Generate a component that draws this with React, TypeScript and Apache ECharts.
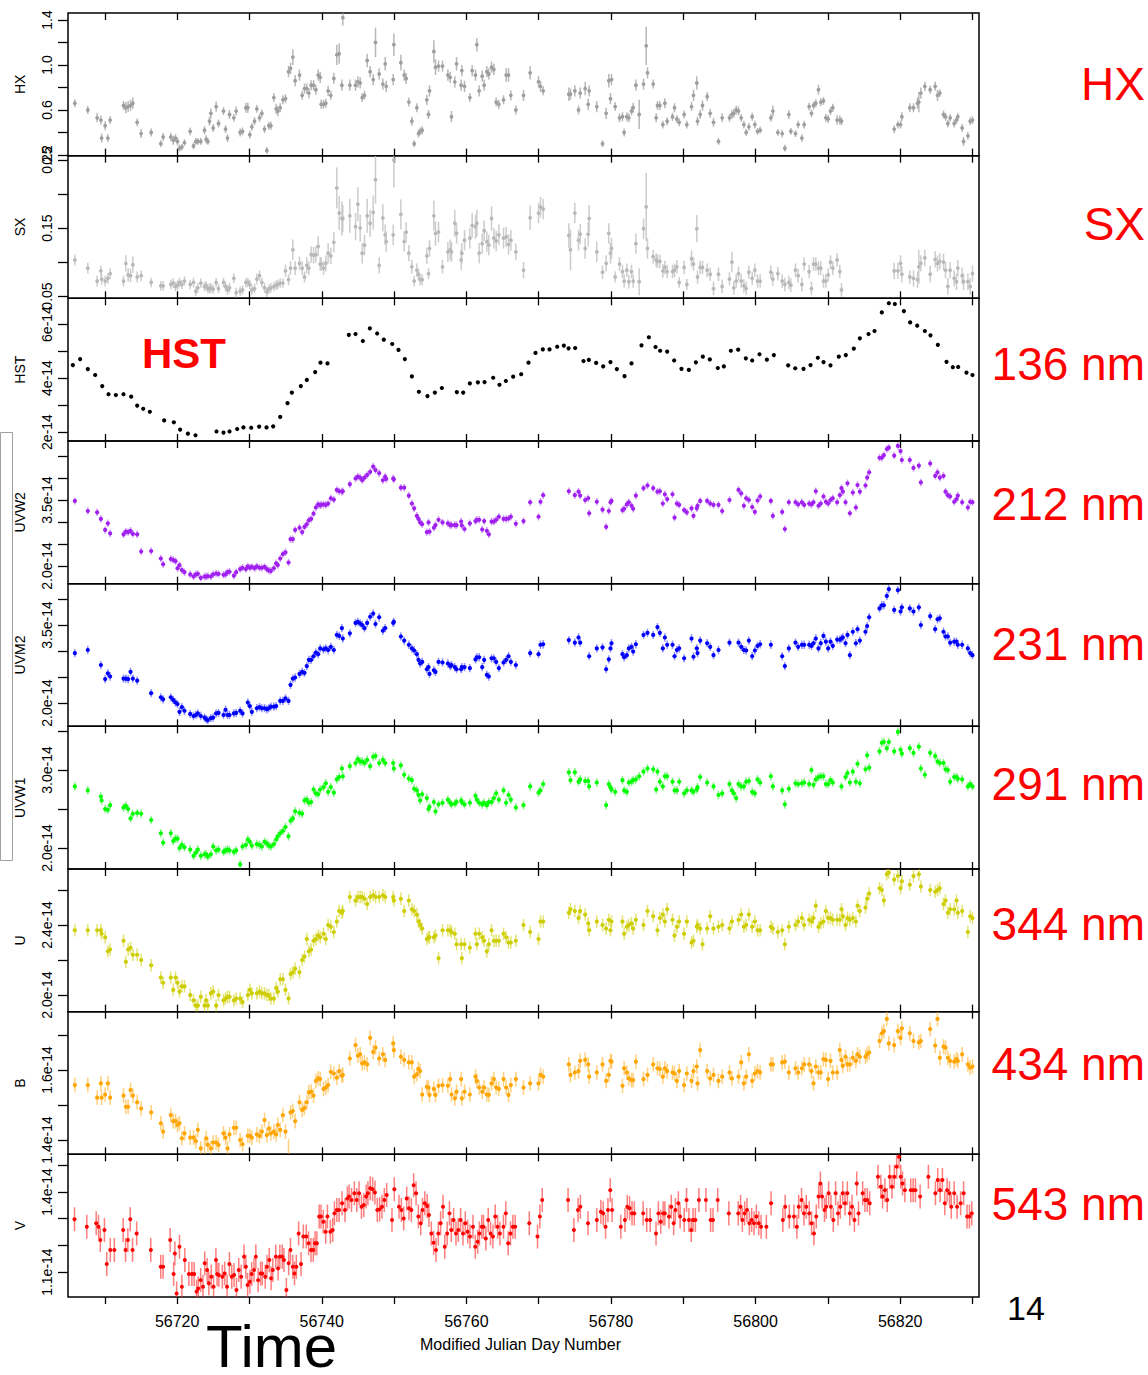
import { useEffect, useRef } from "react";
import * as echarts from "echarts";

const FONT = '"Liberation Sans", Arial, Helvetica, sans-serif';

// time axis (Modified Julian Day)
const xMin = 56704.9;
const xMax = 56830.9;
const xTickValues = [56710, 56720, 56730, 56740, 56750, 56760, 56770, 56780, 56790, 56800, 56810, 56820, 56830];
const xLabelValues = [56720, 56740, 56760, 56780, 56800, 56820];

// Swift visit times (shared by the X-ray and UVOT light curves)
const swiftDays = [
  56705.85, 56707.64, 56708.93, 56709.45, 56709.55, 56710.04, 56710.41, 56710.73, 56712.58, 56712.9,
  56713.22, 56713.55, 56713.87, 56714.47, 56715.02, 56716.4, 56717.74, 56718.06, 56719.12, 56719.45,
  56719.77, 56720.05, 56720.32, 56720.65, 56721.01, 56721.8, 56722.26, 56722.58, 56722.86, 56723.27,
  56723.78, 56724.01, 56724.24, 56724.47, 56724.66, 56724.98, 56725.39, 56725.72, 56726.41, 56726.69,
  56726.96, 56727.24, 56727.84, 56728.16, 56728.71, 56729.04, 56729.5, 56729.77, 56730.05, 56730.33,
  56730.7, 56731.02, 56731.39, 56731.71, 56732.08, 56732.4, 56732.68, 56732.96, 56733.37, 56733.69,
  56733.92, 56734.25, 56734.62, 56734.98, 56735.4, 56735.68, 56736.0, 56736.32, 56736.92, 56737.29,
  56737.61, 56737.93, 56738.21, 56738.53, 56738.86, 56739.18, 56739.5, 56739.78, 56739.92, 56740.24,
  56740.56, 56740.88, 56741.25, 56741.67, 56742.08, 56742.41, 56742.78, 56742.91, 56743.88, 56744.67,
  56744.99, 56745.31, 56745.59, 56745.91, 56746.28, 56746.69, 56747.11, 56747.43, 56747.94, 56748.45,
  56748.77, 56748.91, 56749.88, 56749.97, 56750.94, 56751.4, 56751.67, 56752.04, 56752.46, 56752.78,
  56753.15, 56753.38, 56753.61, 56753.89, 56754.53, 56754.76, 56754.9, 56755.5, 56755.73, 56756.15,
  56756.7, 56757.44, 56757.76, 56757.94, 56758.4, 56758.64, 56759.28, 56759.37, 56759.74, 56760.48,
  56760.8, 56761.26, 56761.45, 56761.77, 56762.19, 56762.46, 56762.83, 56763.11, 56763.48, 56763.8,
  56764.12, 56764.49, 56765.14, 56765.5, 56765.83, 56766.15, 56766.84, 56767.9, 56768.82, 56769.98,
  56770.25, 56770.62, 56774.17, 56774.4, 56775.0, 56775.51, 56775.74, 56776.43, 56776.85, 56776.98,
  56778.04, 56778.83, 56779.33, 56779.7, 56779.93, 56780.07, 56780.58, 56781.18, 56781.59, 56781.82,
  56782.19, 56782.47, 56782.84, 56783.07, 56783.44, 56783.9, 56784.5, 56784.87, 56785.05, 56785.84,
  56786.25, 56786.43, 56786.76, 56787.17, 56787.45, 56787.77, 56788.51, 56788.79, 56789.11, 56789.43,
  56790.12, 56790.49, 56791.14, 56791.41, 56791.87, 56791.97, 56792.34, 56792.66, 56793.3, 56793.72,
  56794.18, 56794.87, 56795.38, 56796.39, 56796.72, 56796.99, 56797.32, 56797.64, 56798.01, 56798.38,
  56798.7, 56799.07, 56799.53, 56799.9, 56800.27, 56800.63, 56802.11, 56802.39, 56803.08, 56803.68,
  56804.05, 56804.6, 56804.88, 56805.52, 56805.89, 56806.4, 56806.72, 56807.41, 56807.73, 56808.01,
  56808.33, 56808.7, 56809.02, 56809.39, 56809.72, 56810.04, 56810.36, 56810.68, 56811.28, 56811.65,
  56811.88,
  56812.07, 56812.44, 56812.71, 56813.04, 56813.45, 56813.87, 56814.1, 56814.42, 56815.2, 56815.43,
  56815.71, 56817.14, 56817.46, 56817.74, 56818.15, 56818.43,
  56819.17, 56819.68, 56820.05, 56820.23, 56821.33, 56821.84, 56822.4, 56822.58, 56822.86,
  56823.41, 56824.15, 56824.84, 56825.16, 56825.48, 56825.99, 56826.27, 56826.59, 56826.91, 56827.47,
  56827.79, 56827.97, 56828.57, 56828.76, 56829.36, 56829.68, 56830.0,
];

const N = null;

// hard X-ray count rate
const hxRate: (number | null)[] = [
  0.66, 0.6, 0.53, 0.51, 0.35, 0.46, 0.35, 0.51, 0.64, 0.62,
  0.63, 0.64, 0.66, 0.49, 0.39, 0.4, 0.3, 0.36, 0.36, 0.33,
  0.35, 0.32, 0.26, 0.27, 0.31, 0.41, 0.28, 0.32, 0.32, 0.32,
  0.42, 0.34, 0.32, 0.5, 0.57, 0.44, 0.63, 0.48, 0.59, 0.43,
  0.35, 0.56, 0.53, 0.59, 0.4, 0.41, 0.62, 0.62, 0.38, 0.45,
  0.5, 0.61, 0.53, 0.57, 0.43, 0.24, 0.46, 0.46, 0.71, 0.61,
  0.59, 0.62, 0.69, 0.7, 0.94, 0.97, 1.07, 0.86, 0.91, 0.73,
  0.79, 0.79, 0.75, 0.82, 0.82, 0.78, 0.91, 0.89, 0.65, 0.65,
  0.66, 0.77, 0.73, 0.88, 1.09, 1.1, 0.82, 1.42, 0.82, 0.82,
  0.85, 0.84, 0.71, 0.73, 1.04, 0.94, 0.87, 1.2, 0.92, 0.83,
  1.01, 0.81, 0.87, 1.18, 1.02, 0.91, 0.88, 0.67, 0.5, 0.3,
  0.62, 0.39, 0.41, 0.42, 0.69, 0.56, 0.77, 1.12, 0.98, 0.99,
  0.99, 0.91, 0.89, 0.54, 0.85, 1.01, 0.82, 0.95, 0.81, 0.71,
  0.95, 0.91, 1.18, 0.77, 0.9, 0.82, 0.94, 0.92, 0.98, 0.96,
  0.67, 0.65, 0.69, 0.91, 0.91, 0.73, 0.6, 0.73, 0.93, 0.85,
  0.81, 0.77, 0.74, 0.74, 0.77, 0.6, 0.75, 0.79, 0.65, 0.77,
  0.63, 0.3, 0.57, 0.86, 0.7, 0.87, 0.63, 0.53, 0.54, 0.4,
  0.54, 0.53, 0.59, 0.62, 0.82, 0.56, 0.83, 1.17, 0.93, 0.83,
  0.53, 0.64, 0.64, 0.47, 0.66, 0.5, 0.54, 0.62, 0.52, 0.49,
  0.56, 0.47, 0.63, 0.73, 0.84, 0.5, 0.56, 0.64, 0.72, 0.57,
  0.49, 0.32, 0.53, 0.53, 0.56, 0.57, 0.6, 0.59, 0.53, 0.47,
  0.4, 0.45, 0.54, 0.47, 0.41, 0.42, 0.53, 0.59, 0.4, 0.39,
  0.26, 0.56, 0.41, 0.39, 0.47, 0.35, 0.47, 0.63, 0.57, 0.64,
  0.66, 0.78, 0.67, 0.68, 0.53, 0.52, 0.59, 0.62, 0.51, 0.51,
  0.5,
  N, N, N, N, N, N, N, N, N, N, N, N, N, N, N, N,
  0.43, 0.47, 0.47, 0.54, 0.62, 0.62, 0.66, 0.67, 0.75,
  0.81, 0.78, 0.81, 0.73, 0.75, 0.56, 0.54, 0.48, 0.53, 0.48,
  0.51, 0.54, 0.44, 0.32, 0.37, 0.5, 0.51,
];

const hxErr = [
  0.035, 0.035, 0.04, 0.04, 0.04, 0.04, 0.035, 0.035, 0.04, 0.05,
  0.05, 0.05, 0.05, 0.035, 0.04, 0.035, 0.03, 0.035, 0.035, 0.04,
  0.035, 0.035, 0.03, 0.03, 0.03, 0.035, 0.03, 0.03, 0.03, 0.03,
  0.035, 0.035, 0.03, 0.04, 0.045, 0.035, 0.045, 0.035, 0.035, 0.035,
  0.035, 0.04, 0.035, 0.04, 0.035, 0.035, 0.045, 0.045, 0.035, 0.035,
  0.035, 0.035, 0.035, 0.035, 0.035, 0.03, 0.035, 0.035, 0.04, 0.045,
  0.045, 0.04, 0.04, 0.04, 0.05, 0.05, 0.07, 0.05, 0.05, 0.04,
  0.045, 0.045, 0.045, 0.045, 0.045, 0.045, 0.05, 0.05, 0.04, 0.04,
  0.04, 0.045, 0.04, 0.05, 0.09, 0.09, 0.05, 0.07, 0.05, 0.05,
  0.05, 0.05, 0.04, 0.04, 0.06, 0.05, 0.05, 0.13, 0.05, 0.05,
  0.06, 0.05, 0.05, 0.1, 0.07, 0.05, 0.05, 0.04, 0.04, 0.03,
  0.04, 0.035, 0.035, 0.035, 0.045, 0.04, 0.05, 0.1, 0.07, 0.05,
  0.05, 0.05, 0.05, 0.05, 0.05, 0.06, 0.05, 0.05, 0.05, 0.04,
  0.05, 0.05, 0.06, 0.05, 0.05, 0.05, 0.05, 0.05, 0.05, 0.05,
  0.04, 0.04, 0.04, 0.06, 0.06, 0.045, 0.04, 0.05, 0.06, 0.05,
  0.05, 0.04, 0.06, 0.05, 0.05, 0.04, 0.05, 0.06, 0.05, 0.05,
  0.05, 0.03, 0.05, 0.06, 0.05, 0.05, 0.04, 0.04, 0.04, 0.035,
  0.04, 0.04, 0.04, 0.045, 0.05, 0.13, 0.05, 0.17, 0.05, 0.04,
  0.04, 0.04, 0.04, 0.035, 0.045, 0.035, 0.035, 0.04, 0.035, 0.035,
  0.035, 0.035, 0.04, 0.05, 0.06, 0.04, 0.04, 0.045, 0.04, 0.04,
  0.04, 0.03, 0.04, 0.035, 0.04, 0.04, 0.04, 0.04, 0.035, 0.035,
  0.03, 0.035, 0.035, 0.035, 0.03, 0.03, 0.035, 0.05, 0.03, 0.035,
  0.03, 0.04, 0.03, 0.03, 0.035, 0.035, 0.035, 0.035, 0.035, 0.035,
  0.035, 0.045, 0.035, 0.035, 0.035, 0.035, 0.035, 0.035, 0.04, 0.04,
  0.035,
  0, 0, 0, 0, 0, 0, 0, 0, 0, 0, 0, 0, 0, 0, 0, 0,
  0.035, 0.035, 0.035, 0.04, 0.04, 0.04, 0.05, 0.09, 0.05,
  0.04, 0.035, 0.04, 0.05, 0.035, 0.035, 0.035, 0.035, 0.035, 0.035,
  0.035, 0.035, 0.035, 0.04, 0.035, 0.035, 0.035,
];

// soft X-ray count rate
const sxRate: (number | null)[] = [
  0.103, 0.091, 0.072, 0.087, 0.075, 0.072, 0.076, 0.083, 0.072, 0.098,
  0.081, 0.08, 0.096, 0.078, 0.08, 0.07, 0.065, 0.065, 0.067, 0.069,
  0.064, 0.066, 0.07, 0.067, 0.072, 0.067, 0.07, 0.057, 0.062, 0.069,
  0.064, 0.065, 0.061, 0.061, 0.062, 0.06, 0.07, 0.061, 0.07, 0.064,
  0.059, 0.062, 0.076, 0.055, 0.057, 0.059, 0.07, 0.07, 0.067, 0.059,
  0.061, 0.075, 0.08, 0.07, 0.062, 0.056, 0.06, 0.062, 0.064, 0.066,
  0.067, 0.069, 0.069, 0.087, 0.074, 0.091, 0.118, 0.091, 0.098, 0.091,
  0.078, 0.095, 0.091, 0.111, 0.11, 0.111, 0.123, 0.097, 0.097, 0.091,
  0.098, 0.113, 0.109, 0.129, 0.209, 0.172, 0.164, 0.164, 0.168, 0.152,
  0.185, 0.15, 0.113, 0.125, 0.168, 0.157, 0.173, 0.221, 0.095, 0.165,
  0.14, 0.13, 0.14, 0.25, 0.17, 0.13, 0.144, 0.113, 0.093, 0.072,
  0.088, 0.082, 0.074, 0.074, 0.109, 0.083, 0.12, 0.168, 0.142, 0.144,
  0.093, 0.115, 0.118, 0.115, 0.157, 0.142, 0.103, 0.113, 0.132, 0.135,
  0.154, 0.152, 0.157, 0.113, 0.127, 0.146, 0.13, 0.125, 0.164, 0.135,
  0.131, 0.14, 0.135, 0.137, 0.126, 0.132, 0.115,
  0.088, 0.165, 0.172, 0.181, 0.178, 0.139, 0.118, 0.172, 0.132, 0.141,
  0.12, 0.141, 0.164, 0.115, 0.085, 0.098, 0.142, 0.113, 0.12, 0.078,
  0.097, 0.086, 0.072, 0.088, 0.071, 0.086, 0.072, 0.127, 0.071, 0.149,
  0.181, 0.12, 0.108, 0.103, 0.101, 0.101, 0.087, 0.092, 0.086, 0.086,
  0.088, 0.093, 0.07, 0.092, 0.067, 0.105, 0.097, 0.149, 0.078, 0.092,
  0.092, 0.088, 0.082, 0.061, 0.082, 0.064, 0.075, 0.1, 0.062, 0.072,
  0.083, 0.072, 0.065, 0.061, 0.085, 0.076, 0.088, 0.072, 0.072, 0.085,
  0.075, 0.083, 0.072, 0.067, 0.07, 0.066, 0.088, 0.08, 0.067, 0.097,
  0.086, 0.061, 0.097, 0.097, 0.091, 0.091, 0.072, 0.072, 0.081, 0.1,
  0.091, 0.103, 0.086, 0.059,
  N, N, N, N, N, N, N, N, N, N, N, N, N, N, N, N,
  0.087, 0.087, 0.098, 0.082, 0.078, 0.076, 0.074, 0.093, 0.098, 0.106,
  0.082, 0.104, 0.098, 0.101, 0.1, 0.088, 0.064, 0.088, 0.076, 0.071,
  0.091, 0.08, 0.071, 0.071, 0.064, 0.083,
];

const sxErr = [
  0.008, 0.008, 0.008, 0.008, 0.008, 0.008, 0.008, 0.008, 0.008, 0.012,
  0.01, 0.01, 0.012, 0.008, 0.008, 0.007, 0.007, 0.007, 0.007, 0.007,
  0.007, 0.007, 0.007, 0.007, 0.007, 0.007, 0.007, 0.007, 0.007, 0.007,
  0.007, 0.007, 0.007, 0.007, 0.007, 0.007, 0.007, 0.007, 0.007, 0.007,
  0.007, 0.007, 0.007, 0.007, 0.007, 0.007, 0.007, 0.007, 0.007, 0.007,
  0.007, 0.008, 0.008, 0.007, 0.007, 0.007, 0.007, 0.007, 0.007, 0.007,
  0.007, 0.007, 0.007, 0.009, 0.008, 0.01, 0.015, 0.01, 0.01, 0.01,
  0.008, 0.012, 0.01, 0.012, 0.012, 0.012, 0.015, 0.01, 0.01, 0.01,
  0.012, 0.015, 0.012, 0.015, 0.03, 0.025, 0.025, 0.02, 0.025, 0.02,
  0.025, 0.02, 0.015, 0.015, 0.025, 0.02, 0.025, 0.035, 0.012, 0.02,
  0.015, 0.015, 0.015, 0.04, 0.022, 0.015, 0.015, 0.012, 0.01, 0.008,
  0.01, 0.008, 0.008, 0.008, 0.012, 0.008, 0.012, 0.022, 0.018, 0.015,
  0.01, 0.015, 0.015, 0.015, 0.02, 0.015, 0.015, 0.015, 0.015, 0.015,
  0.018, 0.018, 0.02, 0.015, 0.015, 0.015, 0.015, 0.015, 0.018, 0.015,
  0.015, 0.015, 0.015, 0.015, 0.015, 0.015, 0.012,
  0.012, 0.018, 0.015, 0.015, 0.015, 0.018, 0.03, 0.015, 0.015, 0.015,
  0.015, 0.018, 0.02, 0.015, 0.01, 0.012, 0.015, 0.015, 0.015, 0.008,
  0.01, 0.01, 0.01, 0.01, 0.01, 0.01, 0.01, 0.015, 0.02, 0.015,
  0.05, 0.015, 0.01, 0.01, 0.01, 0.01, 0.01, 0.01, 0.01, 0.01,
  0.01, 0.01, 0.008, 0.01, 0.008, 0.012, 0.01, 0.02, 0.01, 0.01,
  0.01, 0.01, 0.01, 0.01, 0.01, 0.01, 0.01, 0.015, 0.01, 0.01,
  0.01, 0.01, 0.01, 0.01, 0.01, 0.01, 0.01, 0.01, 0.01, 0.01,
  0.01, 0.01, 0.01, 0.01, 0.01, 0.01, 0.01, 0.01, 0.01, 0.01,
  0.01, 0.01, 0.01, 0.01, 0.01, 0.01, 0.01, 0.01, 0.01, 0.01,
  0.01, 0.01, 0.01, 0.01,
  0, 0, 0, 0, 0, 0, 0, 0, 0, 0, 0, 0, 0, 0, 0, 0,
  0.012, 0.012, 0.012, 0.012, 0.01, 0.012, 0.012, 0.025, 0.012, 0.012,
  0.012, 0.012, 0.012, 0.012, 0.012, 0.012, 0.012, 0.012, 0.012, 0.012,
  0.012, 0.012, 0.012, 0.012, 0.012, 0.012,
];

// UVW2 flux (1e-14 erg/s/cm2/A)
const uvw2Flux: (number | null)[] = [
  3.48, 3.25, 3.22, 3.07, N, 2.82, 2.97, 2.74, 2.72, 2.78,
  2.77, 2.8, 2.73, 2.72, 2.33, 2.34, 2.17, 2.04, 2.16, 2.14,
  2.11, 1.95, 2.02, 1.91, 1.86, 1.81, 1.76, 1.81, 1.82, 1.73,
  1.76, 1.76, 1.77, N, 1.76, 1.81, 1.83, 1.82, 1.8, 1.81,
  1.86, 1.87, 1.78, 1.86, 1.93, 1.96, 1.93, 1.99, 1.96, 1.98,
  1.95, 1.99, 1.96, 1.96, 1.98, 1.93, 1.9, 1.89, 1.95, 2.06,
  2.02, 2.17, 2.27, 2.31, 2.08, 2.61, 2.61, 2.82, 2.87, 2.77,
  2.89, 2.95, 3.04, 3.07, 3.19, 3.33, 3.4, 3.38, 3.39, 3.4,
  3.39, 3.42, 3.54, 3.51, 3.73, 3.7, 3.69, 3.7, 3.86, 3.99,
  4.03, 4.01, 3.95, 4.01, 4.07, 4.14, 4.26, 4.18, 4.11, 3.95,
  4.03, 3.98, 3.99, 3.97, 3.78, 3.78, N, 3.6, 3.42, 3.31,
  3.14, 3.07, 2.99, 2.95, 2.77, 2.99, 2.78, 2.87, 2.93, 3.05,
  2.99, 2.97, 2.93, 2.93, 2.93, 2.93, 3.01, 2.92, 2.84, 2.97,
  N, 3.02, 3.05, 3.05, 2.83, 3.02, 2.8, 2.72, 3.01, 3.01,
  3.05, 3.12, 3.07, 3.07, 3.08, 3.12, 2.96,
  3.02, 3.45, 3.12, 3.46, 3.61, 3.7, N, 3.61, 3.69, 3.6,
  3.5, 3.54, 3.2, 3.46, 3.28, 2.89, 3.25, 3.45, 3.48, N,
  N, 3.27, 3.3, 3.4, 3.45, 3.37, 3.3, 3.6, N, 3.77,
  N, 3.83, 3.77, N, 3.69, 3.7, 3.42, 3.63, 3.52, 3.63,
  3.1, 3.42, 3.39, 3.27, 3.22, 3.31, 3.14, 3.31, 3.37, 3.48,
  N, 3.48, 3.42, 3.39, 3.39, 3.25, 3.5, N, N, N,
  3.73, 3.65, 3.37, 3.54, 3.5, 3.34, 3.23, 3.49, 3.58, 3.48,
  3.14, N, 3.23, 2.84, 3.45, N, 3.45, 3.4, 3.45, 3.39,
  3.42, 3.4, 3.45, 3.7, 3.37, 3.42, 3.58, 3.46, 3.42, 3.5,
  3.54, 3.45, 3.61, 3.77,
  3.69, 3.45, 3.88, 3.2, 3.67, 3.33, 3.84, 3.69, 3.83, 4.01, 4.13, 4.46, 4.46, 4.52, 4.66, 4.69,
  4.51, 4.73, 4.61, 4.41, 4.41, 4.23, N, 4.28, 3.9, N,
  4.33, 4.05, 4.13, 4.01, 4.05, 3.69, 3.61, 3.58, 3.46, 3.52,
  3.6, 3.45, N, 3.33, 3.46, 3.45,
];

// UVM2 flux (1e-14 erg/s/cm2/A)
const uvm2Flux: (number | null)[] = [
  2.96, 3.02, N, 2.73, N, 2.46, 2.57, 2.51, 2.47, 2.47,
  2.46, 2.6, 2.47, 2.43, N, 2.19, 2.11, 2.07, 2.11, 2.06,
  2.01, 1.98, 1.83, 1.92, 1.85, 1.79, 1.75, 1.77, 1.8, 1.75,
  1.72, 1.69, 1.67, N, 1.71, 1.72, 1.8, 1.81, 1.77, 1.87,
  1.77, 1.77, 1.8, 1.81, 1.85, 1.8, N, 2.01, 1.94, 1.83,
  N, 1.9, 1.92, 1.9, 1.9, 1.88, 1.9, 1.93, 1.93, 1.94,
  N, 2.04, 2.04, 2.09, 2.04, 2.35, 2.47, 2.49, 2.56, 2.6,
  2.58, 2.71, 2.83, 2.83, 2.9, 2.97, 2.94, 3.05, N, 3.03,
  3.05, 3.02, 3.08, 3.02, 3.31, 3.29, 3.44, 3.24, 3.34, 3.54,
  3.56, 3.53, 3.5, 3.44, 3.54, 3.66, 3.72, 3.52, 3.65, 3.39,
  3.44, N, 3.54, 3.56, 3.28, 3.2, N, 3.12, 3.05, 3.01,
  2.94, 2.83, 2.76, 2.79, 2.65, 2.69, 2.56, 2.63, 2.6, 2.79,
  2.78, 2.76, 2.71, 2.73, 2.69, 2.65, 2.65, 2.69, 2.69, 2.67,
  N, 2.84, 2.88, 2.88, 2.69, 2.83, 2.54, 2.51, 2.86, 2.86,
  2.79, 2.67, 2.78, 2.83, 2.9, 2.79, 2.73,
  N, 2.96, 2.94, 3.12, 3.13, 3.21, N, 3.16, 3.26, 3.16,
  N, N, 2.9, 3.05, 3.07, 2.65, 2.84, 3.05, 3.15, N,
  N, 2.94, 2.88, 2.92, 3.05, 3.08, 2.99, 3.13, N, 3.31,
  N, 3.35, 3.31, N, 3.46, 3.35, 3.05, 3.26, 3.12, 3.12,
  2.9, 3.02, 3.05, 2.86, N, 3.24, 2.89, 3.05, 2.96, 3.2,
  N, 3.15, 3.08, 2.92, 3.02, N, 3.16, N, N, N,
  3.16, 3.08, 3.02, 3.01, 3.2, 2.9, 3.01, 3.1, 3.13, 3.12,
  N, N, 2.9, 2.71, 3.05, N, 3.16, 3.08, 3.12, 3.12,
  3.12, 3.1, 3.15, 3.24, 3.05, 3.15, 3.29, 3.18, 3.05, 3.18,
  3.1, 3.22, 3.22, 3.24,
  3.26, 3.15, 3.31, 2.92, 3.37, 3.15, 3.42, 3.2, 3.37, 3.48, 3.65, 3.82, 3.88, 3.88, 4.06, 4.19,
  3.79, 4.17, 3.76, 3.84, 3.82, 3.76, N, 3.84, 3.5, N,
  3.67, 3.42, 3.61, 3.63, 3.37, 3.28, 3.28, 3.16, 3.18, 3.18,
  3.12, 3.12, N, 3.05, 2.96, 2.92,
];

// UVW1 flux (1e-14 erg/s/cm2/A)
const uvw1Flux: (number | null)[] = [
  2.79, 2.74, N, 2.66, 2.61, 2.5, 2.49, 2.55, 2.52, 2.54,
  2.5, 2.38, 2.44, 2.45, 2.44, 2.36, 2.19, 2.07, 2.19, 2.09,
  2.12, 2.12, 2.0, 2.04, 2.01, 1.98, 1.9, 1.94, 1.98, 1.9,
  1.92, 1.92, 1.89, N, 1.92, 2.02, 1.97, 1.98, 1.95, 1.97,
  1.98, 1.97, 1.95, 1.97, 1.79, 2.02, 2.04, 2.11, 2.08, 2.03,
  N, 2.05, 2.04, 2.02, 2.08, 2.06, 2.03, 2.02, 2.05, 2.11,
  2.15, 2.19, 2.22, 2.27, 2.15, 2.35, 2.38, 2.47, 2.45, 2.44,
  2.61, 2.62, 2.58, 2.59, 2.75, 2.7, 2.69, 2.75, N, 2.78,
  2.83, 2.72, 2.78, 2.71, 2.88, 2.91, 3.02, 2.92, 3.05, 3.09,
  3.14, 3.11, 3.11, 3.09, 3.13, 3.05, 3.17, 3.18, 3.09, 3.13,
  3.09, N, 3.09, 3.02, 3.06, 2.94, N, 2.89, 2.87, 2.76,
  2.74, 2.68, 2.61, 2.69, 2.64, 2.5, 2.53, 2.59, 2.47, 2.56,
  2.58, 2.62, 2.58, 2.56, 2.57, 2.59, 2.61, 2.59, 2.56, 2.58,
  N, 2.67, 2.62, 2.58, 2.56, 2.58, 2.55, 2.59, 2.59, 2.64,
  2.7, 2.62, 2.74, 2.58, 2.68, 2.62, 2.52,
  2.55, 2.79, 2.71, 2.74, 2.82, 2.97, 2.87, 2.97, 2.85, 2.88,
  2.86, 2.86, 2.79, 2.84, N, 2.55, 2.82, 2.78, 2.75, 2.72,
  N, 2.87, 2.74, 2.72, 2.84, 2.85, 2.87, 2.88, 2.92, 2.98,
  N, 3.02, 3.01, 2.75, 2.98, 2.85, 2.79, 2.92, 2.92, 2.85,
  2.74, 2.74, 2.85, 2.7, 2.74, 2.74, 2.72, 2.75, 2.78, 2.91,
  N, 2.84, N, 2.79, 2.68, 2.7, 2.82, 2.74, 2.7, 2.64,
  2.82, 2.79, 2.79, 2.85, 2.86, 2.72, 2.7, 2.88, 2.84, 2.92,
  2.79, N, 2.74, 2.56, 2.76, N, 2.83, 2.82, 2.83, 2.84,
  2.82, 3.0, 2.81, 2.88, 2.91, 2.92, 2.92, 2.82, 2.82, 2.87,
  2.84, N, N, 2.79,
  N, 2.91, 2.96, 2.84, 2.98, 2.85, 3.08, 2.83, 3.01, 3.19, 3.03, 3.24, 3.35, 3.36, 3.28, 3.36,
  3.24, 3.49, 3.26, 3.21, 3.28, 3.22, N, 3.3, 3.02, 2.94,
  3.22, 3.18, 3.11, 3.09, 3.09, 3.01, 3.0, 2.85, 2.91, 2.91,
  2.89, 2.88, N, 2.79, 2.82, 2.79,
];

// U flux (1e-14 erg/s/cm2/A)
const uFlux: (number | null)[] = [
  2.37, 2.37, 2.37, 2.37, 2.35, 2.33, 2.25, 2.26, 2.31, 2.19,
  2.26, 2.27, 2.23, 2.23, 2.2, 2.17, 2.1, 2.07, 2.1, 2.03,
  2.1, 2.07, 2.02, 2.05, 2.05, 2.0, 1.97, 1.94, 1.94, 1.99,
  1.94, 1.97, 1.94, N, 2.01, 2.02, 1.94, 2.0, 1.97, 1.98,
  1.99, 1.99, 1.97, 1.98, 1.98, 1.96, N, 2.0, 2.03, 2.01,
  N, 2.01, 2.02, 2.01, 2.01, 2.0, 2.0, 1.98, 1.98, 2.04,
  2.02, 2.09, 2.09, 2.03, 1.98, 2.12, 2.13, 2.15, 2.13, 2.2,
  2.22, 2.32, 2.25, 2.26, 2.31, 2.32, 2.34, 2.33, N, 2.35,
  2.32, 2.4, 2.39, 2.36, 2.42, 2.48, 2.47, 2.48, 2.56, 2.54,
  2.56, 2.56, 2.56, 2.55, 2.52, 2.56, 2.57, 2.56, 2.56, 2.57,
  2.56, N, 2.56, 2.54, 2.55, 2.48, N, 2.54, 2.49, 2.48,
  2.46, 2.42, 2.4, 2.38, 2.32, 2.33, 2.33, 2.33, 2.34, 2.21,
  2.37, 2.37, 2.37, 2.36, 2.35, 2.29, 2.29, 2.21, 2.29, 2.27,
  N, 2.35, 2.29, 2.35, 2.33, 2.31, 2.25, 2.29, 2.37, 2.31,
  2.31, 2.31, 2.35, 2.33, 2.3, 2.3, 2.31,
  2.4, 2.36, 2.32, 2.42, 2.42, 2.47, 2.49, 2.48, 2.44, 2.48,
  2.46, 2.41, 2.37, 2.42, 2.4, 2.38, 2.43, 2.37, 2.42, N,
  N, 2.42, 2.35, 2.39, 2.4, 2.41, 2.38, 2.43, N, 2.4,
  N, 2.48, 2.45, N, 2.37, 2.44, 2.46, 2.42, 2.49, 2.43,
  2.34, 2.39, 2.42, 2.35, 2.42, 2.3, 2.31, 2.39, 2.4, 2.38,
  2.29, 2.38, 2.45, 2.38, 2.39, 2.4, 2.38, 2.42, N, N,
  2.43, 2.46, 2.39, 2.4, 2.46, 2.39, 2.42, 2.37, 2.37, 2.39,
  2.38, 2.36, 2.37, 2.29, 2.39, N, 2.4, 2.42, 2.44, 2.4,
  2.43, 2.42, 2.44, 2.51, 2.39, 2.41, 2.42, 2.48, 2.44, 2.44,
  2.43, 2.43, 2.43, 2.49,
  2.45, 2.4, 2.44, 2.43, 2.44, 2.42, 2.51, 2.48, 2.5, 2.55, 2.58, 2.61, 2.6, 2.54, 2.69, 2.7,
  2.66, 2.68, 2.61, 2.65, 2.63, 2.68, N, 2.69, 2.62, N,
  2.6, 2.59, 2.6, 2.61, 2.52, 2.54, 2.47, 2.49, 2.49, 2.54,
  2.47, 2.48, N, 2.36, 2.45, 2.44,
];

// B flux (1e-14 erg/s/cm2/A)
const bFlux: (number | null)[] = [
  1.557, 1.557, 1.521, 1.562, 1.521, 1.53, 1.562, 1.521, 1.527, 1.495,
  1.495, 1.543, 1.527, 1.508, 1.49, 1.479, 1.448, 1.424, 1.471, 1.454,
  1.454, 1.443, 1.448, 1.405, 1.419, 1.407, 1.407, 1.397, 1.429, 1.376,
  1.381, 1.405, 1.386, N, 1.376, 1.393, 1.393, 1.386, 1.419, 1.407,
  1.376, 1.416, 1.435, 1.435, 1.4, 1.388, N, 1.412, 1.412, 1.407,
  N, 1.416, 1.412, 1.424, 1.457, 1.414, 1.433, 1.419, 1.424, 1.416,
  1.443, 1.429, 1.471, 1.424, 1.381, 1.479, 1.483, 1.454, 1.508, 1.486,
  1.492, 1.508, 1.536, 1.538, 1.527, 1.569, 1.576, 1.574, N, 1.546,
  1.55, 1.557, 1.595, 1.59, 1.578, 1.597, 1.584, 1.586, 1.633, 1.671,
  1.641, 1.645, 1.619, 1.622, 1.616, 1.692, 1.652, 1.664, 1.633, 1.645,
  1.629, N, 1.676, 1.657, 1.638, 1.629, N, 1.622, 1.622, 1.581,
  1.588, 1.603, 1.597, 1.53, 1.552, 1.55, 1.529, 1.546, 1.529, 1.555,
  1.557, 1.555, 1.574, 1.53, 1.519, 1.538, 1.574, 1.519, 1.538, 1.53,
  N, 1.581, 1.569, 1.55, 1.538, 1.55, 1.53, 1.529, 1.562, 1.574,
  1.55, 1.546, 1.574, 1.55, 1.529, 1.557, 1.574,
  1.55, 1.562, 1.562, 1.586, 1.581, 1.616, 1.586, 1.593, 1.597, 1.626,
  1.629, 1.616, 1.581, 1.593, 1.616, 1.569, 1.586, 1.626, 1.624, N,
  N, 1.555, 1.605, 1.593, 1.576, 1.571, 1.571, 1.624, N, 1.574,
  N, 1.586, 1.616, N, 1.605, 1.603, 1.581, 1.605, 1.597, 1.593,
  1.59, 1.569, 1.597, 1.557, 1.59, 1.569, 1.597, 1.61, 1.562, 1.657,
  N, 1.597, 1.576, 1.586, 1.569, 1.581, 1.593, 1.576, N, N,
  1.581, 1.622, 1.562, 1.581, 1.645, 1.569, 1.59, 1.597, 1.593, 1.616,
  1.616, N, 1.622, 1.624, 1.593, N, 1.605, 1.593, 1.605, 1.616,
  1.616, 1.597, 1.562, 1.61, 1.593, 1.593, 1.631, 1.629, 1.574, 1.626,
  1.593, 1.593, 1.657, 1.629,
  1.612, 1.638, 1.616, 1.616, 1.635, 1.626, 1.645, 1.638, 1.638, 1.645, 1.65, 1.683, 1.705, 1.711, 1.746, 1.676,
  1.671, 1.711, 1.692, 1.719, 1.705, 1.683, N, 1.679, 1.683, N,
  1.717, 1.67, 1.746, 1.635, 1.667, 1.664, 1.635, 1.626, 1.624, 1.631,
  1.626, 1.645, N, 1.616, 1.607, 1.61,
];

// HST 1367 A continuum (1e-14 erg/s/cm2/A)
const hstDays = [
  56705.57, 56706.58, 56707.64, 56708.66, 56709.63, 56710.5, 56711.52, 56712.58, 56713.64, 56714.47,
  56715.3, 56716.22, 56718.2, 56719.54, 56720.41, 56721.48, 56722.54, 56725.44, 56726.41, 56727.24,
  56728.3, 56729.17, 56730.24, 56731.34, 56732.36, 56733.28, 56734.25, 56735.26, 56735.86, 56737.1,
  56737.93, 56739.09, 56739.82, 56740.79, 56743.74, 56744.67, 56745.68, 56746.65, 56747.66, 56748.58,
  56749.74, 56750.61, 56751.49, 56752.46, 56753.43, 56754.62, 56755.64, 56756.61, 56758.68, 56759.56,
  56760.48, 56761.59, 56762.51, 56763.71, 56764.58, 56765.46, 56766.47, 56767.58, 56768.59, 56769.56,
  56770.57, 56771.5, 56772.56, 56773.48, 56774.13, 56775.05, 56776.2, 56776.94, 56777.95, 56778.92,
  56779.93, 56780.81, 56781.87, 56782.84, 56784.22, 56785.24, 56786.16, 56786.8, 56787.77, 56788.74,
  56789.75, 56790.77, 56791.74, 56792.7, 56793.67, 56794.78, 56795.61, 56796.58, 56797.59, 56798.65,
  56799.53, 56800.54, 56801.56, 56802.53, 56804.51, 56805.48, 56806.63, 56807.6, 56808.61, 56809.4,
  56810.36, 56811.51, 56812.48, 56813.59, 56814.42, 56815.62, 56816.45, 56817.46, 56818.43, 56819.26,
  56820.51, 56821.38, 56822.35, 56823.41, 56824.19, 56825.21, 56826.41, 56827.28, 56828.02, 56829.17,
  56830.0,
];
const hstFlux = [
  4.48, 4.7, 4.33, 4.11, 3.7, 3.4, 3.37, 3.4, 3.31, 2.98,
  2.86, 2.75, 2.43, 2.36, 2.09, 1.94, 1.88, 2.02, 1.98, 2.02,
  2.11, 2.17, 2.16, 2.2, 2.17, 2.21, 2.56, 3.07, 3.46, 3.7,
  3.93, 4.22, 4.57, 4.54, 5.6, 5.63, 5.37, 5.84, 5.65, 5.42,
  5.26, 5.04, 4.7, 4.06, 3.49, 3.33, 3.46, 3.63, 3.48, 3.46,
  3.8, 3.84, 3.85, 4.01, 3.75, 3.89, 4.05, 4.14, 4.57, 4.93,
  5.06, 5.06, 5.16, 5.2, 5.1, 5.11, 4.63, 4.67, 4.56, 4.43,
  4.59, 4.33, 4.07, 4.54, 5.21, 5.51, 5.15, 5.01, 4.98, 4.65,
  4.34, 4.3, 4.58, 4.79, 4.69, 4.37, 4.43, 5.01, 5.05, 4.73,
  4.65, 4.88, 4.68, 4.85, 4.47, 4.36, 4.34, 4.48, 4.75, 4.59,
  4.47, 4.79, 4.85, 5.09, 5.47, 5.63, 5.74, 6.43, 6.77, 6.74,
  6.48, 6.06, 5.94, 5.74, 5.58, 5.23, 4.6, 4.4, 4.41, 4.2,
  4.11,
];

// V band (ground-based, denser sampling)
const vDays = [
  56705.8, 56707.5, 56708.8, 56709.12, 56709.37, 56709.94, 56710.26, 56710.75, 56711.31, 56712.53,
  56712.86, 56713.18, 56713.51, 56713.83, 56714.4, 56716.35, 56717.73, 56718.05, 56719.03, 56719.51,
  56719.68, 56719.92, 56720.32, 56720.65, 56721.06, 56721.62, 56722.03, 56722.35, 56722.68, 56722.92,
  56723.25, 56723.57, 56723.81, 56724.14, 56724.38, 56724.71, 56725.03, 56725.36, 56725.52, 56725.76,
  56726.25, 56726.57, 56726.9, 56727.22, 56727.55, 56727.87, 56728.2, 56728.52, 56728.85, 56729.25,
  56729.5, 56729.74, 56730.06, 56730.31, 56730.63, 56730.88, 56731.2, 56731.53, 56731.77, 56732.18,
  56732.42, 56732.74, 56732.99, 56733.23, 56733.64, 56733.96, 56734.2, 56734.53, 56734.77, 56735.1,
  56735.42, 56735.67, 56735.99, 56736.23, 56736.48, 56736.8, 56737.13, 56737.45, 56737.86, 56738.18,
  56738.51, 56738.83, 56739.07, 56739.32, 56739.64, 56739.89, 56740.21, 56740.54, 56740.78, 56741.19,
  56741.51, 56741.75, 56742.08, 56742.4, 56742.81, 56743.21, 56743.54, 56743.78, 56744.11, 56744.51,
  56744.84, 56745.16, 56745.49, 56745.81, 56746.14, 56746.38, 56746.7, 56747.03, 56747.35, 56747.68,
  56748.0, 56748.33, 56748.65, 56748.98, 56749.71, 56750.03, 56750.68, 56751.01, 56751.33, 56751.74,
  56752.06, 56752.39, 56752.71, 56753.04, 56753.36, 56753.69, 56753.93, 56754.25, 56754.58, 56754.82,
  56755.15, 56755.47, 56755.8, 56756.12, 56756.44, 56756.77, 56757.01, 56757.34, 56757.66, 56757.91,
  56758.23, 56758.56, 56758.88, 56759.2, 56759.53, 56759.85, 56760.18, 56760.5, 56760.91, 56761.23,
  56761.56, 56761.8, 56762.13, 56762.37, 56762.69, 56763.02, 56763.34, 56763.67, 56763.99, 56764.32,
  56764.64, 56765.13, 56765.45, 56765.78, 56766.1, 56766.43, 56766.75, 56768.7, 56769.84, 56770.16,
  56770.49, 56774.06, 56774.87, 56775.44, 56775.76, 56776.82, 56778.04, 56778.6, 56778.93, 56779.25,
  56779.58, 56779.9, 56780.15, 56781.36, 56781.93, 56782.26, 56782.58, 56782.91, 56783.23, 56784.45,
  56784.94, 56785.42, 56786.23, 56786.56, 56786.88, 56787.21, 56787.45, 56788.02, 56788.34, 56788.67,
  56788.91, 56789.32, 56789.56, 56790.13, 56790.45, 56790.78, 56791.1, 56791.35, 56791.67, 56792.16,
  56793.13, 56793.78, 56794.11, 56794.76, 56796.3, 56797.6, 56797.92, 56798.17, 56798.49, 56798.81,
  56799.14, 56799.46, 56799.79, 56800.11, 56800.44, 56800.76, 56801.49, 56802.14, 56803.77, 56804.09,
  56804.66, 56805.31, 56805.71, 56805.96, 56806.36, 56806.69, 56807.01, 56807.42, 56807.74, 56808.07,
  56808.39, 56808.72, 56808.96, 56809.2, 56809.53, 56809.77, 56810.1, 56810.42, 56810.75, 56811.07,
  56811.4, 56811.72, 56812.05, 56812.37, 56812.69, 56813.02, 56813.34, 56813.67, 56813.99, 56814.24,
  56814.81, 56815.13, 56815.45, 56815.78, 56816.92, 56817.32, 56817.56, 56817.89, 56818.21, 56818.54,
  56818.86, 56819.19, 56819.51, 56819.84, 56820.08, 56820.32, 56820.65, 56821.46, 56821.79, 56822.11,
  56822.76, 56823.9, 56824.87, 56825.19, 56825.52, 56825.84, 56826.17, 56826.49, 56826.82, 56827.06,
  56827.47, 56827.87, 56828.36, 56828.77, 56829.25, 56829.58, 56829.9,
];
const vFlux = [
  1.298, 1.27, 1.283, 1.27, 1.22, 1.258, 1.13, 1.183, 1.183, 1.258,
  1.183, 1.22, 1.298, 1.183, 1.245, 1.183, 1.12, 1.12, 1.22, 1.093,
  1.17, 1.02, 1.195, 1.045, 1.145, 1.093, 1.093, 1.093, 1.027, 1.039,
  1.07, 1.045, 1.133, 1.108, 1.058, 1.083, 1.045, 1.145, 1.093, 1.089,
  1.083, 1.095, 1.045, 1.13, 1.083, 1.089, 1.033, 1.108, 1.083, 1.158,
  1.12, 1.052, 1.064, 1.093, 1.108, 1.158, 1.07, 1.095, 1.095, 1.083,
  1.12, 1.145, 1.077, 1.108, 1.158, 1.114, 1.158, 1.158, 1.145, 1.033,
  1.133, 1.183, 1.12, 1.095, 1.12, 1.245, 1.13, 1.233, 1.233, 1.208,
  1.183, 1.183, 1.208, 1.208, 1.308, 1.308, 1.289, 1.251, 1.308, 1.251,
  1.258, 1.32, 1.333, 1.333, 1.358, 1.333, 1.376, 1.383, 1.37, 1.395,
  1.37, 1.395, 1.345, 1.351, 1.383, 1.395, 1.414, 1.41, 1.398, 1.333,
  1.335, 1.345, 1.37, 1.389, 1.295, 1.41, 1.345, 1.333, 1.301, 1.376,
  1.339, 1.333, 1.425, 1.395, 1.308, 1.283, 1.333, 1.358, 1.348, 1.314,
  1.245, 1.21, 1.183, 1.245, 1.283, 1.345, 1.195, 1.245, 1.32, 1.258,
  1.295, 1.245, 1.258, 1.295, 1.245, 1.283, 1.251, 1.233, 1.27, 1.195,
  1.214, 1.245, 1.27, 1.27, 1.226, 1.295, 1.245, 1.233, 1.308, 1.27,
  1.245, 1.27, 1.32, 1.208, 1.245, 1.27, 1.27, 1.283, 1.233, 1.308,
  1.37, 1.37, 1.258, 1.333, 1.345, 1.283, 1.295, 1.326, 1.32, 1.27,
  1.333, 1.407, 1.333, 1.27, 1.295, 1.345, 1.339, 1.32, 1.32, 1.32,
  1.295, 1.295, 1.245, 1.32, 1.289, 1.32, 1.32, 1.308, 1.345, 1.283,
  1.333, 1.358, 1.308, 1.295, 1.37, 1.295, 1.258, 1.295, 1.295, 1.37,
  1.37, 1.295, 1.295, 1.37, 1.32, 1.32, 1.345, 1.295, 1.32, 1.333,
  1.283, 1.295, 1.283, 1.308, 1.283, 1.27, 1.27, 1.358, 1.295, 1.345,
  1.308, 1.308, 1.27, 1.345, 1.37, 1.32, 1.345, 1.32, 1.283, 1.245,
  1.308, 1.383, 1.432, 1.383, 1.333, 1.345, 1.395, 1.345, 1.295, 1.395,
  1.32, 1.345, 1.395, 1.358, 1.395, 1.32, 1.345, 1.295, 1.432, 1.32,
  1.395, 1.37, 1.37, 1.358, 1.457, 1.42, 1.383, 1.407, 1.37, 1.457,
  1.42, 1.457, 1.495, 1.532, 1.457, 1.432, 1.407, 1.407, 1.407, 1.407,
  1.383, 1.457, 1.395, 1.445, 1.407, 1.445, 1.358, 1.407, 1.395, 1.345,
  1.395, 1.345, 1.358, 1.395, 1.308, 1.308, 1.32,
];

const PLOT_LEFT = 68;
const PLOT_RIGHT = 979;
const PLOT_TOP = 13;
const PANEL_H = 142.67;

type Panel = {
  name: string;
  tag: string;
  min: number;
  max: number;
  ticks: number[];
  labels: number[];
  fmt: (v: number) => string;
  color: string;
  errColor: string;
  days: number[];
  vals: (number | null)[];
  errs: number[] | number;
  r: number;
};

const e14 = (digits: number) => (v: number) => `${v.toFixed(digits)}e-14`;

const panels: Panel[] = [
  {
    name: "HX", tag: "HX", min: 0.194, max: 1.462,
    ticks: [0.2, 0.4, 0.6, 0.8, 1.0, 1.2, 1.4], labels: [0.2, 0.6, 1.0, 1.4],
    fmt: (v) => v.toFixed(1), color: "#9e9e9e", errColor: "rgba(165,165,165,0.8)",
    days: swiftDays, vals: hxRate, errs: hxErr, r: 1.9,
  },
  {
    name: "SX", tag: "SX", min: 0.0466, max: 0.2564,
    ticks: [0.05, 0.1, 0.15, 0.2, 0.25], labels: [0.05, 0.15, 0.25],
    fmt: (v) => v.toFixed(2), color: "#b8b8b8", errColor: "rgba(195,195,195,0.85)",
    days: swiftDays, vals: sxRate, errs: sxErr, r: 1.9,
  },
  {
    name: "HST", tag: "136 nm", min: 1.667, max: 6.951,
    ticks: [2, 3, 4, 5, 6], labels: [2, 4, 6],
    fmt: e14(0), color: "#000000", errColor: "rgba(0,0,0,0)",
    days: hstDays, vals: hstFlux, errs: 0, r: 2.1,
  },
  {
    name: "UVW2", tag: "212 nm", min: 1.598, max: 4.841,
    ticks: [2.0, 2.5, 3.0, 3.5, 4.0, 4.5], labels: [2.0, 3.5],
    fmt: e14(1), color: "#a020f0", errColor: "rgba(170,60,240,0.5)",
    days: swiftDays, vals: uvw2Flux, errs: 0.085, r: 2.1,
  },
  {
    name: "UVM2", tag: "231 nm", min: 1.551, max: 4.295,
    ticks: [2.0, 2.5, 3.0, 3.5, 4.0], labels: [2.0, 3.5],
    fmt: e14(1), color: "#0000ff", errColor: "rgba(40,40,255,0.5)",
    days: swiftDays, vals: uvm2Flux, errs: 0.08, r: 2.1,
  },
  {
    name: "UVW1", tag: "291 nm", min: 1.731, max: 3.56,
    ticks: [2.0, 2.5, 3.0, 3.5], labels: [2.0, 3.0],
    fmt: e14(1), color: "#00ff00", errColor: "rgba(40,235,40,0.55)",
    days: swiftDays, vals: uvw1Flux, errs: 0.055, r: 2.1,
  },
  {
    name: "U", tag: "344 nm", min: 1.905, max: 2.72,
    ticks: [2.0, 2.2, 2.4, 2.6], labels: [2.0, 2.4],
    fmt: e14(1), color: "#cdcd00", errColor: "rgba(205,205,0,0.55)",
    days: swiftDays, vals: uFlux, errs: 0.036, r: 2.1,
  },
  {
    name: "B", tag: "434 nm", min: 1.359, max: 1.7667,
    ticks: [1.4, 1.5, 1.6, 1.7], labels: [1.4, 1.6],
    fmt: e14(1), color: "#ffa500", errColor: "rgba(255,170,20,0.55)",
    days: swiftDays, vals: bFlux, errs: 0.021, r: 2.1,
  },
  {
    name: "V", tag: "543 nm", min: 1.0067, max: 1.541,
    ticks: [1.1, 1.2, 1.3, 1.4, 1.5], labels: [1.1, 1.4],
    fmt: e14(1), color: "#ff0000", errColor: "rgba(255,40,40,0.6)",
    days: vDays, vals: vFlux, errs: 0.045, r: 2.0,
  },
];

const tagY = [85, 225, 365, 505, 645, 785, 925, 1065, 1205];

function buildOption(): echarts.EChartsOption {
  const last = panels.length - 1;
  const grid = panels.map((_, i) => ({
    left: PLOT_LEFT,
    width: PLOT_RIGHT - PLOT_LEFT,
    top: PLOT_TOP + i * PANEL_H,
    height: PANEL_H,
    show: true,
    borderColor: "#000",
    borderWidth: 1.5,
    backgroundColor: "transparent",
    containLabel: false,
  }));

  const tickStyle = { color: "#000", width: 1.3 };
  const bottomAxes = panels.map((_, i) => ({
    gridIndex: i,
    type: "value" as const,
    min: xMin,
    max: xMax,
    position: "bottom" as const,
    axisLine: { show: false },
    splitLine: { show: false },
    axisTick: {
      show: true,
      inside: i !== last,
      length: 7,
      customValues: xTickValues,
      lineStyle: tickStyle,
    },
    axisLabel: {
      show: i === last,
      customValues: xLabelValues,
      margin: 16,
      fontSize: 16,
      fontFamily: FONT,
      color: "#000",
      formatter: (v: number) => String(Math.round(v)),
    },
  }));
  const topAxes = panels.map((_, i) => ({
    gridIndex: i,
    type: "value" as const,
    min: xMin,
    max: xMax,
    position: "top" as const,
    axisLine: { show: false },
    splitLine: { show: false },
    axisTick: { show: true, inside: true, length: 7, customValues: xTickValues, lineStyle: tickStyle },
    axisLabel: { show: false },
  }));

  const yAxis = panels.map((p, i) => ({
    gridIndex: i,
    type: "value" as const,
    min: p.min,
    max: p.max,
    position: "left" as const,
    axisLine: { show: false },
    splitLine: { show: false },
    axisTick: { show: true, inside: false, length: 10, customValues: p.ticks, lineStyle: tickStyle },
    axisLabel: {
      customValues: p.labels,
      formatter: (v: number) => p.fmt(v),
      rotate: 90,
      margin: 14,
      fontSize: 14,
      fontFamily: FONT,
      color: "#000",
    },
    name: p.name,
    nameLocation: "middle" as const,
    nameGap: 41,
    nameRotate: 90,
    nameTextStyle: { fontSize: 14, fontFamily: FONT, color: "#000" },
  }));

  const series = panels.map((p, i) => {
    const data: number[][] = [];
    p.days.forEach((d, k) => {
      const v = p.vals[k];
      if (v === null || v === undefined) return;
      const e = Array.isArray(p.errs) ? p.errs[k] ?? 0 : p.errs;
      data.push([d, v, e]);
    });
    return {
      type: "custom" as const,
      xAxisIndex: i,
      yAxisIndex: i,
      clip: true,
      silent: true,
      data,
      encode: { x: 0, y: 1 },
      renderItem: (_params: any, api: any) => {
        const x = api.value(0);
        const y = api.value(1);
        const e = api.value(2);
        const c = api.coord([x, y]);
        const children: any[] = [];
        if (e > 0) {
          const lo = api.coord([x, y - e]);
          const hi = api.coord([x, y + e]);
          children.push({
            type: "line",
            shape: { x1: c[0], y1: lo[1], x2: c[0], y2: hi[1] },
            style: { stroke: p.errColor, lineWidth: 1.5 },
          });
        }
        children.push({ type: "circle", shape: { cx: c[0], cy: c[1], r: p.r }, style: { fill: p.color } });
        return { type: "group", children };
      },
    };
  });

  const graphic: any[] = panels.map((p, i) => ({
    type: "text",
    right: 3,
    top: tagY[i] - 24,
    style: { text: p.tag, fill: "#ff0000", fontSize: 46, fontFamily: FONT },
  }));
  graphic.push(
    {
      type: "text",
      left: 142,
      top: 332,
      style: { text: "HST", fill: "#ff0000", fontSize: 42, fontWeight: "bold", fontFamily: FONT },
    },
    {
      type: "text",
      left: 1007,
      top: 1291,
      style: { text: "14", fill: "#000", fontSize: 34, fontFamily: FONT },
    },
    {
      type: "text",
      left: 206,
      top: 1316,
      style: { text: "Time", fill: "#000", fontSize: 60, lineHeight: 58, fontFamily: FONT },
    },
    {
      type: "text",
      left: 420,
      top: 1336,
      style: { text: "Modified Julian Day Number", fill: "#000", fontSize: 16, fontFamily: FONT },
    },
    {
      type: "rect",
      left: -2,
      top: 430,
      shape: { x: 0, y: 0, width: 12, height: 428 },
      style: { fill: "none", stroke: "#a0a0a0", lineWidth: 1 },
    }
  );

  return {
    animation: false,
    backgroundColor: "#ffffff",
    grid,
    xAxis: [...bottomAxes, ...topAxes],
    yAxis,
    series,
    graphic,
  } as echarts.EChartsOption;
}

export default function App() {
  const ref = useRef<HTMLDivElement>(null);
  useEffect(() => {
    if (!ref.current) return;
    const chart = echarts.init(ref.current, undefined, { renderer: "svg" });
    chart.setOption(buildOption());
    return () => chart.dispose();
  }, []);
  return (
    <div
      ref={ref}
      style={{ position: "absolute", left: 0, top: 0, width: 1148, height: 1375, background: "#fff" }}
    />
  );
}
